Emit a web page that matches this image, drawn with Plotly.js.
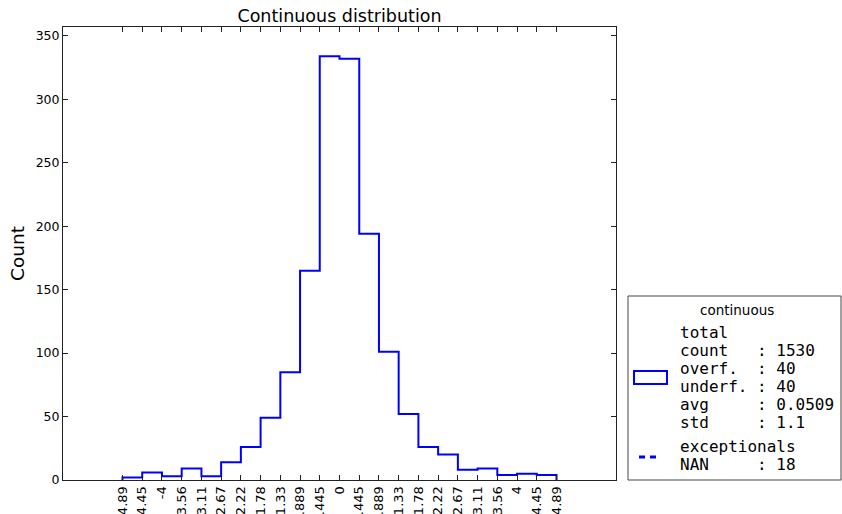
<!DOCTYPE html>
<html>
<head>
<meta charset="utf-8">
<script src="https://cdn.plot.ly/plotly-3.0.1.min.js"></script>
<style>html,body{margin:0;padding:0;background:#fff;}#chart{width:842px;height:514px;}</style>
</head>
<body>
<div id="chart"></div>
<script>
// ---- data ----
const binEdges = [-4.89, -4.445, -4.0, -3.556, -3.111, -2.667, -2.222, -1.778, -1.333, -0.889, -0.445, 0,
                  0.445, 0.889, 1.333, 1.778, 2.222, 2.667, 3.111, 3.556, 4.0, 4.445, 4.89];
const tickLabels = ["4.89","4.45","-4","3.56","3.11","2.67","2.22","1.78","1.33",".889",".445","0",
                    ".445",".889","1.33","1.78","2.22","2.67","3.11","3.56","4","4.45","4.89"];
const binCounts = [2, 6, 3, 9, 3, 14, 26, 49, 85, 165, 334, 332, 194, 101, 52, 26, 20, 8, 9, 4, 5, 4];
const yTicks = [0, 50, 100, 150, 200, 250, 300, 350];
const seriesName = "continuous";
const statLabels = ["total", "count", "overf.", "underf.", "avg", "std"];
const statValues = ["", "1530", "40", "40", "0.0509", "1.1"];
const excLabels = ["exceptionals", "NAN"];
const excValues = ["", "18"];

// ---- geometry helpers (pixel -> paper) ----
const L = 63, R = 616, T = 27, B = 480, W = 842, H = 514;
const px = x => (x - L) / (R - L);
const py = y => (B - y) / (B - T);

// step outline
const xs = [binEdges[0]], ys = [0];
for (let i = 0; i < binCounts.length; i++) { xs.push(binEdges[i]); ys.push(binCounts[i]); }
xs.push(binEdges[binEdges.length - 1]); ys.push(0);

const trace = {
  x: xs, y: ys, type: 'scatter', mode: 'lines',
  line: {shape: 'hv', color: '#0000ff', width: 2},
  hoverinfo: 'skip', showlegend: false, cliponaxis: false
};

const nb = s => s.replace(/ /g, '\u00a0');
function fmtLine(lbl, val, w) {
  if (val === "") return lbl;
  let s = lbl; while (s.length < w) s += ' ';
  return s + ': ' + val;
}

const mono = {family: 'DejaVu Sans Mono, monospace', size: 16, color: '#000'};
const annotations = [];
annotations.push({xref: 'paper', yref: 'paper', x: px(737), y: py(310), text: seriesName,
  showarrow: false, xanchor: 'center', yanchor: 'middle',
  font: {family: 'DejaVu Sans, sans-serif', size: 13.5, color: '#000'}});
const statY = [332, 350, 368, 386, 404, 422];
statLabels.forEach((l, i) => {
  annotations.push({xref: 'paper', yref: 'paper', x: px(678), y: py(statY[i]),
    text: nb(fmtLine(l, statValues[i], 8)), showarrow: false, xanchor: 'left', yanchor: 'middle', font: mono});
});
const excY = [446, 464];
excLabels.forEach((l, i) => {
  annotations.push({xref: 'paper', yref: 'paper', x: px(678), y: py(excY[i]),
    text: nb(fmtLine(l, excValues[i], 8)), showarrow: false, xanchor: 'left', yanchor: 'middle', font: mono});
});

const shapes = [
  {type: 'rect', xref: 'paper', yref: 'paper', x0: px(628), x1: px(841), y0: py(480), y1: py(296),
   line: {color: '#444', width: 1}, fillcolor: 'rgba(0,0,0,0)'},
  {type: 'rect', xref: 'paper', yref: 'paper', x0: px(634), x1: px(667), y0: py(384), y1: py(371),
   line: {color: '#0000ff', width: 2}, fillcolor: 'rgba(0,0,0,0)'},
  {type: 'line', xref: 'paper', yref: 'paper', x0: px(639), x1: px(661), y0: py(457), y1: py(457),
   line: {color: '#0000ff', width: 3, dash: '6px,5px'}}
];

const layout = {
  width: W, height: H,
  margin: {l: L, r: W - R, t: T, b: H - B, pad: 0},
  paper_bgcolor: '#fff', plot_bgcolor: '#fff',
  font: {family: 'DejaVu Sans, sans-serif', size: 12, color: '#000'},
  title: {text: 'Continuous distribution', x: 0.5, xref: 'paper', xanchor: 'center',
          y: 1 - 16 / H, yref: 'container', yanchor: 'middle',
          font: {family: 'DejaVu Sans, sans-serif', size: 17.5, color: '#000'}},
  xaxis: {
    range: [-6.23, 6.23], tickmode: 'array', tickvals: binEdges, ticktext: tickLabels,
    tickangle: -90, ticks: 'inside', ticklen: 5, tickcolor: '#222', tickwidth: 1,
    showline: true, linecolor: '#222', linewidth: 1, mirror: 'ticks',
    showgrid: false, zeroline: false, automargin: false,
    tickfont: {family: 'DejaVu Sans, sans-serif', size: 13, color: '#000'}
  },
  yaxis: {
    range: [0, 357], tickmode: 'array', tickvals: yTicks,
    ticks: 'inside', ticklen: 5, tickcolor: '#222', tickwidth: 1,
    showline: true, linecolor: '#222', linewidth: 1, mirror: 'ticks',
    showgrid: false, zeroline: false, automargin: false,
    tickfont: {family: 'DejaVu Sans, sans-serif', size: 12.5, color: '#000'},
    title: {text: 'Count', standoff: 6, font: {family: 'DejaVu Sans, sans-serif', size: 18.5, color: '#000'}}
  },
  shapes: shapes,
  annotations: annotations,
  showlegend: false
};

Plotly.newPlot('chart', [trace], layout, {displayModeBar: false, staticPlot: true});
</script>
</body>
</html>
